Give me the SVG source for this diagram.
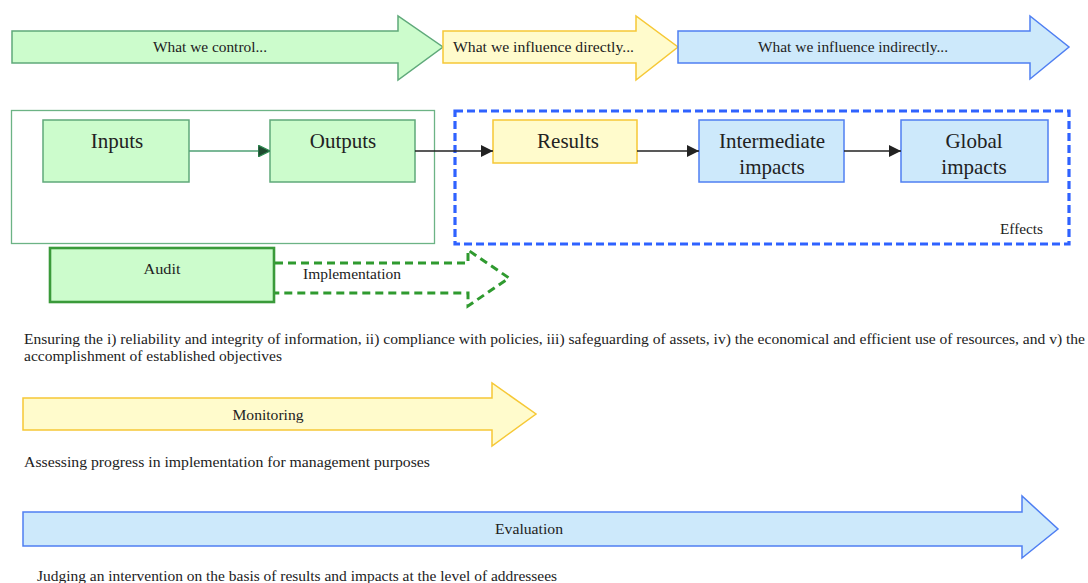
<svg xmlns="http://www.w3.org/2000/svg" width="1088" height="583" viewBox="0 0 1088 583" font-family="'Liberation Serif', 'DejaVu Serif', serif">
<defs>
<style>
text{font-family:'Liberation Serif','DejaVu Serif','Times New Roman',serif;fill:#222;}
.lbl{font-size:14px;}
.box{font-size:21px;text-anchor:middle;}
.mid{text-anchor:middle;}
.g{fill:#ccfccc;stroke:#5fa97a;stroke-width:1.5;}
.y{fill:#fffbcc;stroke:#f6c836;stroke-width:1.5;}
.b{fill:#cde9fb;stroke:#4f7ff2;stroke-width:1.5;}
.conn{stroke:#222;stroke-width:1.5;fill:none;}
</style>
<marker id="ab" viewBox="0 0 10 10" refX="10" refY="5" markerWidth="12" markerHeight="12" orient="auto" markerUnits="userSpaceOnUse">
<path d="M0,0 L10,5 L0,10 Z" fill="#222"/>
</marker>
<marker id="ag" viewBox="0 0 10 10" refX="10" refY="5" markerWidth="12" markerHeight="12" orient="auto" markerUnits="userSpaceOnUse">
<path d="M0,0 L10,5 L0,10 Z" fill="#1f4a30" stroke="#2f8a52" stroke-width="1"/>
</marker>
</defs>
<rect width="1088" height="583" fill="#ffffff"/>

<g id="arrow-control">
<path class="g" d="M12,31 H398 V16 L443,47 L398,80 V63 H12 Z"/>
<text class="lbl mid" x="210" y="52" textLength="114" lengthAdjust="spacingAndGlyphs">What we control...</text>
</g>
<g id="arrow-direct">
<path class="y" d="M443,31 H636 V16 L678,47 L636,80 V63 H443 Z"/>
<text class="lbl" x="453" y="52" textLength="181" lengthAdjust="spacingAndGlyphs">What we influence directly...</text>
</g>
<g id="arrow-indirect">
<path class="b" d="M678,31 H1030 V16 L1069,47 L1030,79 V63 H678 Z"/>
<text class="lbl" x="758" y="52" textLength="190" lengthAdjust="spacingAndGlyphs">What we influence indirectly...</text>
</g>

<g id="control-frame">
<rect x="11.5" y="110.5" width="423" height="133" fill="none" stroke="#6cb385" stroke-width="1.3"/>
</g>
<g id="effects-frame">
<rect x="455" y="111" width="614" height="133" fill="none" stroke="#2f62ff" stroke-width="3.2" stroke-dasharray="8,4"/>
<text class="lbl" x="1043" y="234" text-anchor="end" textLength="43" lengthAdjust="spacingAndGlyphs">Effects</text>
</g>

<g id="inputs">
<rect class="g" x="43" y="120" width="146" height="62"/>
<text class="box" x="117" y="148">Inputs</text>
</g>
<g id="outputs">
<rect class="g" x="270" y="120" width="145" height="62"/>
<text class="box" x="343" y="148">Outputs</text>
</g>
<g id="results">
<rect class="y" x="493" y="120" width="144" height="43"/>
<text class="box" x="568" y="148">Results</text>
</g>
<g id="intermediate">
<rect class="b" x="699" y="120" width="145" height="62"/>
<text class="box" x="772" y="148">Intermediate</text>
<text class="box" x="772" y="174">impacts</text>
</g>
<g id="global">
<rect class="b" x="901" y="120" width="147" height="62"/>
<text class="box" x="974" y="148">Global</text>
<text class="box" x="974" y="174">impacts</text>
</g>

<g id="connectors">
<line x1="189" y1="151" x2="270" y2="151" stroke="#4fa074" stroke-width="1.5" marker-end="url(#ag)"/>
<line class="conn" x1="415" y1="151" x2="493" y2="151" marker-end="url(#ab)"/>
<line class="conn" x1="637" y1="151" x2="699" y2="151" marker-end="url(#ab)"/>
<line class="conn" x1="844" y1="151" x2="901" y2="151" marker-end="url(#ab)"/>
</g>

<g id="audit">
<rect x="50" y="248" width="224" height="54" fill="#ccfccc" stroke="#3a9a3a" stroke-width="2.6"/>
<text class="lbl mid" x="162" y="274" textLength="37" lengthAdjust="spacingAndGlyphs">Audit</text>
</g>
<g id="implementation">
<path d="M275,263 H468 V250 L509,278 L468,306 V293 H275" fill="none" stroke="#2f9a2f" stroke-width="3" stroke-dasharray="8,5"/>
<text class="lbl" x="303" y="279" textLength="98" lengthAdjust="spacingAndGlyphs">Implementation</text>
</g>

<g id="audit-text">
<text class="lbl" x="24" y="344" textLength="1061" lengthAdjust="spacingAndGlyphs">Ensuring  the i) reliability and integrity of information, ii) compliance with policies, iii) safeguarding of assets, iv) the economical and efficient use of resources, and v) the</text>
<text class="lbl" x="24" y="361" textLength="258" lengthAdjust="spacingAndGlyphs">accomplishment of established objectives</text>
</g>

<g id="monitoring">
<path class="y" d="M23,398 H492 V383 L536,414 L492,446 V430 H23 Z"/>
<text class="lbl mid" x="268" y="420" textLength="71" lengthAdjust="spacingAndGlyphs">Monitoring</text>
</g>
<text class="lbl" x="24" y="467" textLength="406" lengthAdjust="spacingAndGlyphs">Assessing  progress in implementation for management purposes</text>

<g id="evaluation">
<path class="b" d="M23,512 H1022 V496 L1058,529 L1022,558 V546 H23 Z"/>
<text class="lbl mid" x="529" y="534" textLength="68" lengthAdjust="spacingAndGlyphs">Evaluation</text>
</g>
<text class="lbl" x="37" y="581" textLength="520" lengthAdjust="spacingAndGlyphs">Judging an intervention on the basis of results and impacts at the level of addressees</text>
</svg>
